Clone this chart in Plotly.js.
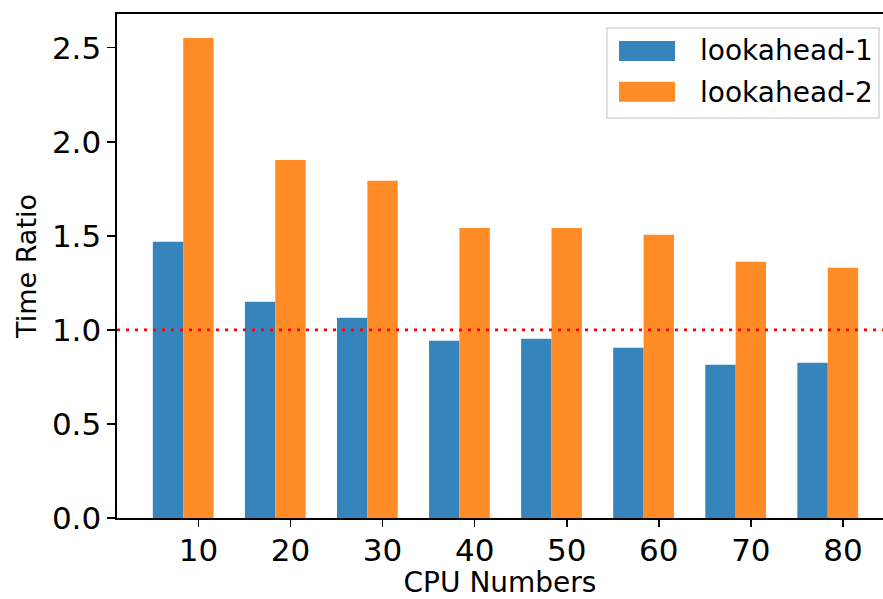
<!DOCTYPE html>
<html>
<head>
<meta charset="utf-8">
<script src="https://cdn.plot.ly/plotly-3.0.1.min.js"></script>
<style>
  html, body { margin: 0; padding: 0; background: #fff; }
  #chart { width: 883px; height: 599px; }
</style>
</head>
<body>
<div id="chart"></div>
<script>
// CPU counts on the x axis
const cpuNumbers = [10, 20, 30, 40, 50, 60, 70, 80];
// Time ratio for each lookahead depth
const lookahead1 = [1.468, 1.149, 1.064, 0.942, 0.953, 0.905, 0.814, 0.825];
const lookahead2 = [2.551, 1.903, 1.793, 1.542, 1.542, 1.505, 1.362, 1.330];
const seriesNames = ['lookahead-1', 'lookahead-2'];
const yTicks = [0, 0.5, 1.0, 1.5, 2.0, 2.5];
const referenceRatio = 1.0;

const barWidth = 3.3;
const blue = 'rgb(53,133,188)';
const orange = 'rgb(255,140,38)';
const FONT = 'DejaVu Sans, Verdana, sans-serif';

const traces = [
  {
    type: 'bar', name: seriesNames[0], x: cpuNumbers, y: lookahead1,
    width: barWidth, offset: -1.5 * barWidth,
    marker: { color: blue, line: { width: 0 } }, showlegend: false
  },
  {
    type: 'bar', name: seriesNames[1], x: cpuNumbers, y: lookahead2,
    width: barWidth, offset: -0.5 * barWidth,
    marker: { color: orange, line: { width: 0 } }, showlegend: false
  }
];

// hand-drawn legend box (paper coordinates)
const legendShapes = [
  { type: 'rect', xref: 'paper', yref: 'paper', x0: 0.6397, x1: 0.9948, y0: 0.7937, y1: 0.9722,
    line: { color: '#d6d6d6', width: 1.5 }, fillcolor: 'rgba(255,255,255,0.8)', layer: 'above' },
  { type: 'rect', xref: 'paper', yref: 'paper', x0: 0.6554, x1: 0.7285, y0: 0.9067, y1: 0.9464,
    line: { width: 0 }, fillcolor: blue, layer: 'above' },
  { type: 'rect', xref: 'paper', yref: 'paper', x0: 0.6554, x1: 0.7285, y0: 0.8260, y1: 0.8657,
    line: { width: 0 }, fillcolor: orange, layer: 'above' }
];
const legendLabels = [
  { xref: 'paper', yref: 'paper', x: 0.7585, y: 0.9266, xanchor: 'left', yanchor: 'middle',
    text: seriesNames[0], showarrow: false, font: { family: FONT, size: 28, color: '#000' } },
  { xref: 'paper', yref: 'paper', x: 0.7585, y: 0.8452, xanchor: 'left', yanchor: 'middle',
    text: seriesNames[1], showarrow: false, font: { family: FONT, size: 28, color: '#000' } }
];

const layout = {
  width: 883, height: 599,
  margin: { l: 117, r: 0, t: 14, b: 81, pad: 0 },
  paper_bgcolor: '#fff', plot_bgcolor: '#fff',
  barmode: 'overlay',
  font: { family: FONT, color: '#000' },
  xaxis: {
    range: [1.16, 84.35],
    tickvals: cpuNumbers, ticktext: cpuNumbers.map(String),
    ticks: 'outside', ticklen: 7, tickwidth: 1.6, tickcolor: '#000',
    tickfont: { family: FONT, size: 31, color: '#000' },
    ticklabelstandoff: -3,
    showline: true, linecolor: '#000', linewidth: 1.6, mirror: true,
    showgrid: false, zeroline: false,
    title: { text: 'CPU Numbers', font: { family: FONT, size: 28, color: '#000' }, standoff: 20 }
  },
  yaxis: {
    range: [0, 2.679],
    tickvals: yTicks, ticktext: yTicks.map(v => v.toFixed(1)),
    ticks: 'outside', ticklen: 8, tickwidth: 1.6, tickcolor: '#000',
    tickfont: { family: FONT, size: 31, color: '#000' },
    showline: true, linecolor: '#000', linewidth: 1.6,
    showgrid: false, zeroline: false,
    title: { text: 'Time Ratio', font: { family: FONT, size: 27, color: '#000' }, standoff: 7 }
  },
  shapes: [
    { type: 'line', xref: 'paper', yref: 'y', x0: 0, x1: 1, y0: referenceRatio, y1: referenceRatio,
      line: { color: '#ff0000', width: 2.6, dash: '3px,6px' }, layer: 'above' }
  ].concat(legendShapes),
  annotations: legendLabels
};

Plotly.newPlot('chart', traces, layout, { displayModeBar: false, staticPlot: true });
</script>
</body>
</html>
